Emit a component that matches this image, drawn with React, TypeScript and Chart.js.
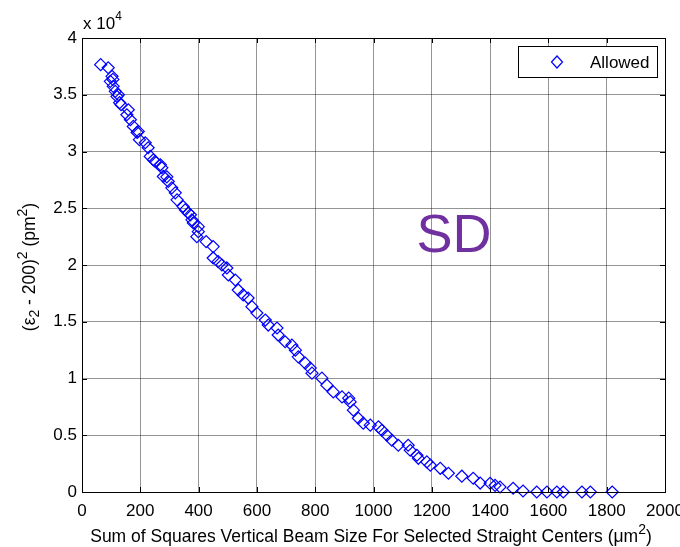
import React, { useEffect, useRef } from 'react';
import { Chart, registerables } from 'chart.js';

Chart.register(...registerables);

const seriesLabel = 'Allowed';
const annotationText = 'SD';

const xValues = [
  64, 90, 97, 103, 106, 107, 114, 120, 125, 129, 134, 154, 159, 166, 176, 189, 193, 197, 217, 227,
  234, 245, 251, 269, 274, 279, 291, 296, 308, 320, 326, 347, 354, 365, 372, 377, 382, 394, 399, 399,
  426, 450, 450, 467, 480, 497, 502, 526, 536, 553, 570, 583, 600, 629, 639, 669, 673, 697, 720, 732,
  742, 766, 783, 789, 823, 840, 862, 892, 915, 920, 931, 948, 965, 989, 1017, 1029, 1046, 1063, 1085, 1119,
  1126, 1149, 1154, 1183, 1195, 1229, 1257, 1303, 1342, 1366, 1400, 1417, 1434, 1479, 1513, 1560, 1595, 1629, 1651, 1715,
  1744, 1819,
];
const yValues = [
  37650, 37380, 36180, 36620, 36350, 35740, 35300, 34850, 35000, 34300, 34120, 33240, 33680, 32800, 32210, 31680, 31770, 31040, 30770, 30330,
  29570, 29270, 29120, 28830, 28570, 27800, 27770, 27360, 26800, 26360, 25740, 25150, 24860, 24590, 24420, 23980, 23710, 22500, 23380, 22940,
  22060, 21620, 20620, 20300, 20000, 19740, 19120, 18680, 17800, 17360, 17090, 16330, 15770, 15150, 14710, 14450, 13830, 13240, 12940, 12500,
  11910, 11350, 10920, 10470, 10030, 9410, 8820, 8380, 8270, 7940, 7210, 6500, 6060, 5890, 5740, 5440, 5000, 4560, 4120, 4120,
  3680, 3240, 2970, 2650, 2360, 2090, 1650, 1390, 1210, 790, 770, 590, 440, 330, 90, 0, 0, 0, 0, 0,
  0, 0,
];

const xTicks = [0, 200, 400, 600, 800, 1000, 1200, 1400, 1600, 1800, 2000];
const xTickLabels = ['0', '200', '400', '600', '800', '1000', '1200', '1400', '1600', '1800', '2000'];
const yTicks = [0, 5000, 10000, 15000, 20000, 25000, 30000, 35000, 40000];
const yTickLabels = ['0', '0.5', '1', '1.5', '2', '2.5', '3', '3.5', '4'];

const FONT = '"Liberation Sans", Arial, Helvetica, sans-serif';

type Seg = { t: string; sub?: boolean; sup?: boolean };

function drawRich(ctx: CanvasRenderingContext2D, segs: Seg[], x: number, y: number, size: number, align: 'center' | 'left', ratio = 0.75) {
  const small = size * ratio;
  const fontFor = (s: Seg) => `${s.sub || s.sup ? small : size}px ${FONT}`;
  let total = 0;
  for (const s of segs) {
    ctx.font = fontFor(s);
    total += ctx.measureText(s.t).width;
  }
  let cx = align === 'center' ? x - total / 2 : x;
  ctx.textAlign = 'left';
  ctx.textBaseline = 'middle';
  for (const s of segs) {
    ctx.font = fontFor(s);
    const dy = s.sub ? size * 0.32 : s.sup ? -size * 0.42 : 0;
    ctx.fillText(s.t, cx, y + dy);
    cx += ctx.measureText(s.t).width;
  }
}

const decorPlugin = {
  id: 'decor',
  afterDraw(chart: any) {
    const ctx: CanvasRenderingContext2D = chart.ctx;
    const { left, right, top, bottom } = chart.chartArea;
    const xs = chart.scales.x;
    const ys = chart.scales.y;
    ctx.save();
    ctx.strokeStyle = '#000';
    ctx.lineWidth = 1;
    ctx.strokeRect(Math.round(left) + 0.5, Math.round(top) + 0.5, Math.round(right - left), Math.round(bottom - top));
    ctx.beginPath();
    for (const v of xTicks) {
      const px = Math.round(xs.getPixelForValue(v)) + 0.5;
      ctx.moveTo(px, bottom);
      ctx.lineTo(px, bottom - 5);
      ctx.moveTo(px, top);
      ctx.lineTo(px, top + 5);
    }
    for (const v of yTicks) {
      const py = Math.round(ys.getPixelForValue(v)) + 0.5;
      ctx.moveTo(left, py);
      ctx.lineTo(left + 5, py);
      ctx.moveTo(right, py);
      ctx.lineTo(right - 5, py);
    }
    ctx.stroke();

    ctx.fillStyle = '#000';
    drawRich(ctx, [{ t: 'x 10' }, { t: '4', sup: true }], left + 1, top - 14, 17, 'left', 0.7);

    drawRich(
      ctx,
      [{ t: 'Sum of Squares Vertical Beam Size For Selected Straight Centers (\u03bcm' }, { t: '2', sup: true }, { t: ')' }],
      371,
      537,
      17.5,
      'center',
      0.8
    );

    ctx.save();
    ctx.translate(30, 267);
    ctx.rotate(-Math.PI / 2);
    drawRich(
      ctx,
      [{ t: '(\u03b5' }, { t: '2', sub: true }, { t: ' - 200)' }, { t: '2', sup: true }, { t: ' (pm' }, { t: '2', sup: true }, { t: ')' }],
      0,
      0,
      17.5,
      'center',
      0.8
    );
    ctx.restore();

    ctx.fillStyle = '#fff';
    ctx.fillRect(518.5, 46.5, 139, 31);
    ctx.strokeStyle = '#000';
    ctx.strokeRect(518.5, 46.5, 139, 31);
    ctx.strokeStyle = '#0000FF';
    ctx.lineWidth = 1.2;
    ctx.beginPath();
    ctx.moveTo(557 - 5.5, 62);
    ctx.lineTo(557, 62 - 6);
    ctx.lineTo(557 + 5.5, 62);
    ctx.lineTo(557, 62 + 6);
    ctx.closePath();
    ctx.stroke();
    ctx.fillStyle = '#000';
    ctx.font = `17px ${FONT}`;
    ctx.textAlign = 'left';
    ctx.textBaseline = 'middle';
    ctx.fillText(seriesLabel, 590, 63);

    ctx.fillStyle = '#7030A0';
    ctx.font = `54px ${FONT}`;
    ctx.textAlign = 'center';
    ctx.textBaseline = 'middle';
    ctx.fillText(annotationText, 454, 237);
    ctx.restore();
  },
};

export default function App() {
  const ref = useRef<HTMLCanvasElement | null>(null);
  useEffect(() => {
    document.body.style.margin = '0';
    const canvas = ref.current;
    if (!canvas) return;
    const chart = new Chart(canvas, {
      type: 'scatter',
      data: {
        datasets: [
          {
            label: seriesLabel,
            data: xValues.map((x, i) => ({ x, y: yValues[i] })),
            pointStyle: 'rectRot',
            pointRadius: 6,
            pointHoverRadius: 6,
            borderColor: '#0000FF',
            backgroundColor: 'rgba(0,0,0,0)',
            pointBorderWidth: 1.2,
            clip: false,
          } as any,
        ],
      },
      options: {
        animation: false,
        responsive: false,
        devicePixelRatio: 1,
        layout: { padding: { top: 38, right: 15, left: 0, bottom: 0 } },
        plugins: { legend: { display: false }, tooltip: { enabled: false } },
        scales: {
          x: {
            type: 'linear',
            min: 0,
            max: 2000,
            afterBuildTicks: (s: any) => {
              s.ticks = xTicks.map((v) => ({ value: v }));
            },
            afterFit: (s: any) => {
              s.height = 55;
              s.paddingLeft = 0;
              s.paddingRight = 0;
            },
            grid: { color: 'rgba(0,0,0,0.42)', drawTicks: false },
            border: { display: false },
            ticks: {
              color: '#000',
              font: { family: FONT, size: 17 },
              padding: 9,
              maxRotation: 0,
              autoSkip: false,
              callback: (v: any) => {
                const i = xTicks.indexOf(Number(v));
                return i >= 0 ? xTickLabels[i] : '';
              },
            },
          },
          y: {
            type: 'linear',
            min: 0,
            max: 40000,
            afterBuildTicks: (s: any) => {
              s.ticks = yTicks.map((v) => ({ value: v }));
            },
            afterFit: (s: any) => {
              s.width = 82;
              s.paddingTop = 0;
              s.paddingBottom = 0;
            },
            grid: { color: 'rgba(0,0,0,0.42)', drawTicks: false },
            border: { display: false },
            ticks: {
              color: '#000',
              font: { family: FONT, size: 17 },
              padding: 5,
              autoSkip: false,
              callback: (v: any) => {
                const i = yTicks.indexOf(Number(v));
                return i >= 0 ? yTickLabels[i] : '';
              },
            },
          },
        },
      },
      plugins: [decorPlugin],
    });
    return () => chart.destroy();
  }, []);
  return (
    <div style={{ position: 'absolute', left: 0, top: 0, width: 680, height: 547, background: '#fff' }}>
      <canvas ref={ref} width={680} height={547} />
    </div>
  );
}
